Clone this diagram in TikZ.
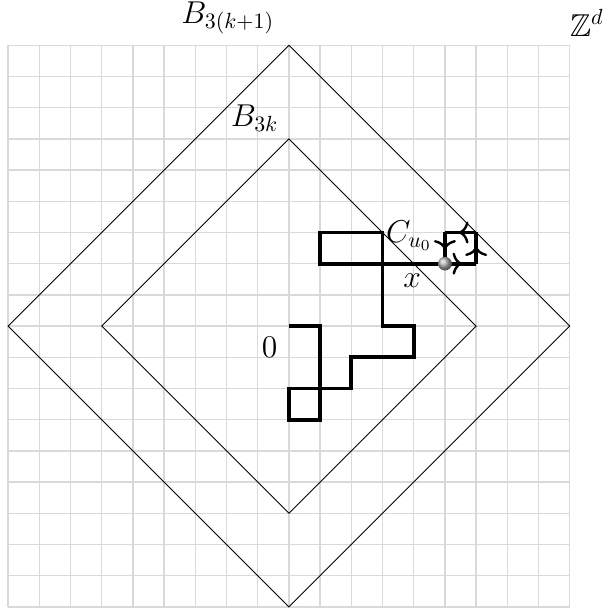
\documentclass[tikz,border=0pt]{standalone}
\usepackage{amsmath, amsfonts, amssymb}
\usetikzlibrary{arrows.meta, decorations.markings}

\tikzset{
  cammino/.style={line width=1.7pt},
  etichetta/.style={font=\Large},
  freccia/.style={postaction={decorate},
    decoration={markings, mark=at position 0.56 with
      {\arrow[line width=1.1pt]{Computer Modern Rightarrow[length=4.5pt,width=10pt]}}}}
}

\begin{document}
\begin{tikzpicture}[scale=0.5]
  \useasboundingbox (-9.26,-9.10) rectangle (10.29,10.45);

  % griglia
  \draw[gray!30, line width=0.6pt] (-9,-9) grid (9,9);

  % palle
  \draw (0,9) -- (9,0) -- (0,-9) -- (-9,0) -- cycle;
  \draw (0,6) -- (6,0) -- (0,-6) -- (-6,0) -- cycle;
  \node[etichetta] (Bout) at (-1.96,9.87) {$B_{3(k+1)}$};
  \node[etichetta] (Bin) at (-1.1,6.65) {$B_{3k}$};
  \node[etichetta] (Zd) at (9.55,9.72) {$\mathbb{Z}^d$};

  % cammino
  \coordinate (O) at (0,0);
  \coordinate (X) at (5,2);
  \draw[cammino] (O) -- (1,0) -- (1,-3) -- (0,-3) -- (0,-2) -- (2,-2) -- (2,-1)
    -- (4,-1) -- (4,0) -- (3,0) -- (3,3) -- (1,3) -- (1,2) -- (X);
  \node[etichetta] (zero) at (-0.62,-0.68) {$0$};

  % ciclo
  \draw[cammino, freccia] (X) -- (6,2);
  \draw[cammino, freccia] (6,2) -- (6,3);
  \draw[cammino, freccia] (6,3) -- (5,3);
  \draw[cammino, freccia] (5,3) -- (X);
  \shade[ball color=gray!60] (X) circle (0.22);
  \node[etichetta] (x) at (3.95,1.44) {$x$};
  \node[etichetta] (C) at (3.85,2.9) {$C_{u_0}$};
\end{tikzpicture}
\end{document}
